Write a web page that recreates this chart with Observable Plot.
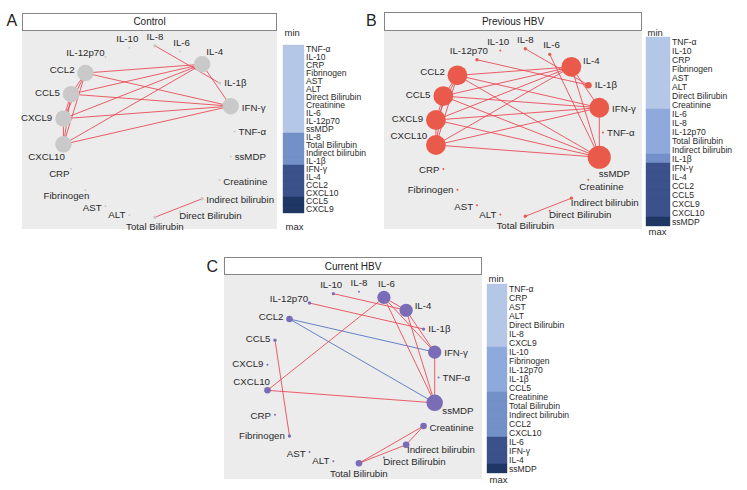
<!DOCTYPE html>
<html>
<head>
<meta charset="utf-8">
<script src="https://cdn.jsdelivr.net/npm/d3@7"></script>
<script src="https://cdn.jsdelivr.net/npm/@observablehq/plot@0.6"></script>
<style>
  html, body { margin: 0; padding: 0; background: #fff; }
  #root { position: relative; width: 747px; height: 490px; overflow: hidden; font-family: "Liberation Sans", Arial, sans-serif; color: #222; }
  .abs { position: absolute; }
  .abs svg { max-width: none; display: block; }
  .title { position: absolute; box-sizing: border-box; border: 1px solid #858585; background: #fff; font-size: 10px; display: flex; align-items: center; justify-content: center; color: #222; }
  .letter { position: absolute; font-size: 16px; line-height: 1; color: #222; }
</style>
</head>
<body>
<div id="root"></div>
<script>
// ---------------- DATA ----------------
// node order around the circle (clockwise, starting near the top)
const nodeOrder = ["IL-10","IL-8","IL-6","IL-4","IL-1β","IFN-γ","TNF-α","ssMDP","Creatinine",
  "Indirect bilirubin","Direct Bilirubin","Total Bilirubin","ALT","AST","Fibrinogen","CRP",
  "CXCL10","CXCL9","CCL5","CCL2","IL-12p70"];

// edges: [node, node, sign of correlation]
const edgesControl = [
  ["CCL2","CCL5",1],["CCL2","CXCL9",1],["CCL2","CXCL10",1],["CCL5","CXCL9",1],["CCL5","CXCL10",1],["CXCL9","CXCL10",1],
  ["CCL2","IL-4",1],["CCL5","IL-4",1],["CXCL9","IL-4",1],["CXCL10","IL-4",1],
  ["CCL2","IFN-γ",1],["CCL5","IFN-γ",1],["CXCL9","IFN-γ",1],["CXCL10","IFN-γ",1],
  ["IL-4","IFN-γ",1],["IL-8","IL-1β",1],["Total Bilirubin","Indirect bilirubin",1]
];
const edgesPrevious = [
  ["CCL2","CCL5",1],["CCL2","CXCL9",1],["CCL2","CXCL10",1],["CCL5","CXCL9",1],["CCL5","CXCL10",1],["CXCL9","CXCL10",1],
  ["CCL2","IL-4",1],["CCL5","IL-4",1],["CXCL9","IL-4",1],["CXCL10","IL-4",1],
  ["CCL2","IFN-γ",1],["CCL5","IFN-γ",1],["CXCL9","IFN-γ",1],["CXCL10","IFN-γ",1],
  ["CCL2","ssMDP",1],["CCL5","ssMDP",1],["CXCL9","ssMDP",1],["CXCL10","ssMDP",1],
  ["IL-4","IFN-γ",1],["IL-4","ssMDP",1],["IFN-γ","ssMDP",1],
  ["IL-6","ssMDP",1],["IL-8","IL-1β",1],["IL-12p70","IL-1β",1],["Total Bilirubin","Indirect bilirubin",1]
];
const edgesCurrent = [
  ["CCL2","IFN-γ",-1],["CCL2","ssMDP",-1],
  ["CXCL10","IL-6",1],["CXCL10","ssMDP",1],["CCL5","Fibrinogen",1],
  ["IL-10","IL-4",1],["IL-12p70","IL-1β",1],
  ["IL-6","IL-4",1],["IL-6","IFN-γ",1],["IL-6","ssMDP",1],
  ["IL-4","IFN-γ",1],["IL-4","ssMDP",1],["IFN-γ","ssMDP",1],
  ["Creatinine","Total Bilirubin",1],["Creatinine","Indirect bilirubin",1],["Indirect bilirubin","Total Bilirubin",1]
];

// legends (min -> max) and their shade level
const legendControl = ["TNF-α","IL-10","CRP","Fibrinogen","AST","ALT","Direct Bilirubin","Creatinine","IL-6","IL-12p70","ssMDP",
  "IL-8","Total Bilirubin","Indirect bilirubin","IL-1β","IFN-γ","IL-4","CCL2","CXCL10","CCL5","CXCL9"];
const levelsControl = [1,1,1,1,1,1,1,1,1,1,1, 3,3,3,3, 4,4,4,4, 5,5];
const legendPrevious = ["TNF-α","IL-10","CRP","Fibrinogen","AST","ALT","Direct Bilirubin","Creatinine",
  "IL-6","IL-8","IL-12p70","Total Bilirubin","Indirect bilirubin","IL-1β","IFN-γ","IL-4","CCL2","CCL5","CXCL9","CXCL10","ssMDP"];
const levelsPrevious = [1,1,1,1,1,1,1,1, 2,2,2,2,2, 3, 4,4,4,4,4,4, 5];
const legendCurrent = ["TNF-α","CRP","AST","ALT","Direct Bilirubin","IL-8","CXCL9","IL-10","Fibrinogen","IL-12p70","IL-1β","CCL5",
  "Creatinine","Total Bilirubin","Indirect bilirubin","CCL2","CXCL10","IL-6","IFN-γ","IL-4","ssMDP"];
const levelsCurrent = [1,1,1,1,1,1,1, 2,2,2,2,2, 3,3,3,3,3, 4,4,4, 5];

const panelTitles = ["Control","Previous HBV","Current HBV"];
const panelLetters = ["A","B","C"];

// ---------------- STYLE / LAYOUT ----------------
const FONT = '"Liberation Sans", Arial, sans-serif';
const shades = ["#b4c7e7","#8eaadc","#7390c8","#3a5189","#1f3764"];
const edgeColors = {pos: "#e8434f", neg: "#4a6fbf"};
const nodeColors = ["#c9c9c9","#ea5a4a","#7b6cb7"];
const labelAngleDefault = {"IL-10":-8,"IL-8":0,"IL-6":8,"IL-4":70,"IL-1β":90,"IFN-γ":95,"TNF-α":90,"ssMDP":90,
  "Creatinine":100,"Indirect bilirubin":120,"Direct Bilirubin":120,"Total Bilirubin":180,"ALT":270,"AST":260,
  "Fibrinogen":270,"CRP":265,"CXCL10":300,"CXCL9":272,"CCL5":275,"CCL2":280,"IL-12p70":300};
const layout = [
  {left:22, titleTop:12.5, grayTop:30, grayBottom:229, width:255, cx:126, cy:101, R:86,
   letterX:6.5, letterY:13, legX:283, legW:21, legTop:37.3, legBottom:221.7,
   labelAngle:{"IL-4":40,"Indirect bilirubin":100,"Fibrinogen":225,"CRP":235,"CXCL10":215}},
  {left:384, titleTop:12, grayTop:30, grayBottom:229, width:258, cx:134.5, cy:102, R:84,
   letterX:366, letterY:13, legX:646, legW:24, legTop:37.3, legBottom:226.5,
   labelAngle:{"ssMDP":150,"Creatinine":150,"IL-12p70":340}},
  {left:224, titleTop:257, grayTop:274, grayBottom:479, width:258, cx:128, cy:103, R:86,
   letterX:206.5, letterY:258.5, legX:487, legW:20, legTop:283.3, legBottom:475,
   labelAngle:{"ssMDP":120,"CXCL10":320}}
];
const edgeSets = [edgesControl, edgesPrevious, edgesCurrent];
const legends = [[legendControl, levelsControl],[legendPrevious, levelsPrevious],[legendCurrent, levelsCurrent]];

const LABEL_FS = 9.7, LEGEND_FS = 8.6;
const ctx = document.createElement("canvas").getContext("2d");
ctx.font = `${LABEL_FS}px "Liberation Sans"`;
const measure = s => ctx.measureText(s).width;
const rDomain = [0, 1, 8], rRange = [1, 1.65, 13.2];
const rOf = d3.scaleLinear(rDomain, rRange);

const root = document.getElementById("root");
function place(el, x, y) { const d = document.createElement("div"); d.className = "abs"; d.style.left = x + "px"; d.style.top = y + "px"; d.appendChild(el); root.appendChild(d); }

layout.forEach((g, k) => {
  // panel letter
  const L = document.createElement("div"); L.className = "letter"; L.textContent = panelLetters[k];
  L.style.left = g.letterX + "px"; L.style.top = g.letterY + "px"; root.appendChild(L);

  // network
  const edges = edgeSets[k];
  const n = nodeOrder.length;
  const deg = new Map(nodeOrder.map(d => [d, 0]));
  for (const [a, b] of edges) { deg.set(a, deg.get(a) + 1); deg.set(b, deg.get(b) + 1); }
  const pos = new Map();
  const nodesData = nodeOrder.map((name, i) => {
    const a = (90 + (i - 6) * 360 / n) * Math.PI / 180;
    const ux = Math.sin(a), uy = -Math.cos(a);
    pos.set(name, [ux, uy]);
    const la = ((g.labelAngle[name] ?? labelAngleDefault[name]) * Math.PI) / 180;
    const s = Math.sin(la), c = Math.cos(la);
    const w = measure(name), h = 9;
    const off = rOf(deg.get(name)) + 3;
    const px = s * (off + w / 2), py = -c * (off + h / 2);
    return {name, deg: deg.get(name), ux, uy, lx: ux + px / g.R, ly: uy + py / g.R};
  });
  const edgeData = edges.map(([a, b, sgn]) => ({x1: pos.get(a)[0], y1: pos.get(a)[1], x2: pos.get(b)[0], y2: pos.get(b)[1], sign: sgn}));
  const H = g.grayBottom - g.grayTop;
  const net = Plot.plot({
    width: g.width, height: H, margin: 0,
    style: {background: "#ececec", fontFamily: FONT, overflow: "visible"},
    x: {domain: [-1, 1], range: [g.cx - g.R, g.cx + g.R], axis: null},
    y: {domain: [-1, 1], range: [g.cy - g.R, g.cy + g.R], axis: null},
    r: {type: "linear", domain: rDomain, range: rRange},
    color: {type: "ordinal", domain: [1, -1], range: [edgeColors.pos, edgeColors.neg]},
    marks: [
      Plot.link(edgeData, {x1: "x1", y1: "y1", x2: "x2", y2: "y2", stroke: "sign", strokeWidth: 0.85}),
      Plot.dot(nodesData, {x: "ux", y: "uy", r: "deg", fill: nodeColors[k], stroke: "none"}),
      Plot.text(nodesData, {x: "lx", y: "ly", text: "name", fontSize: LABEL_FS, fill: "#2a2a2a", textAnchor: "middle", lineAnchor: "middle"})
    ]
  });
  place(net, g.left, g.grayTop);

  // title box
  const T = document.createElement("div"); T.className = "title"; T.textContent = panelTitles[k];
  T.style.left = g.left + "px"; T.style.top = g.titleTop + "px"; T.style.width = g.width + "px";
  T.style.height = (g.grayTop - g.titleTop + 1) + "px"; root.appendChild(T);

  // legend
  const [labels, levels] = legends[k];
  const ld = labels.map((label, i) => ({label, level: levels[i]}));
  const mt = 12, mb = 12, LW = 110;
  const legH = g.legBottom - g.legTop + mt + mb;
  const leg = Plot.plot({
    width: LW, height: legH, marginTop: mt, marginBottom: mb, marginLeft: 0, marginRight: LW - g.legW,
    style: {background: "transparent", fontFamily: FONT, overflow: "visible"},
    x: {type: "band", domain: [0], padding: 0, axis: null},
    y: {type: "band", domain: labels, padding: 0, axis: null},
    color: {type: "ordinal", domain: [1, 2, 3, 4, 5], range: shades},
    marks: [
      Plot.cell(ld, {x: () => 0, y: "label", fill: "level", stroke: "level", strokeWidth: 0.4, inset: 0}),
      Plot.text(ld, {x: () => 0, y: "label", text: "label", textAnchor: "start", dx: g.legW / 2 + 1.5, fontSize: LEGEND_FS, fill: "#2a2a2a"}),
      Plot.text(["min"], {frameAnchor: "top-left", text: d => d, textAnchor: "start", lineAnchor: "bottom", dx: 1, dy: -1, fontSize: 9.5, fill: "#2a2a2a"}),
      Plot.text(["max"], {frameAnchor: "bottom-left", text: d => d, textAnchor: "start", lineAnchor: "top", dx: 2, dy: 1.5, fontSize: 9.5, fill: "#2a2a2a"})
    ]
  });
  place(leg, g.legX, g.legTop - mt);
});
</script>
</body>
</html>
